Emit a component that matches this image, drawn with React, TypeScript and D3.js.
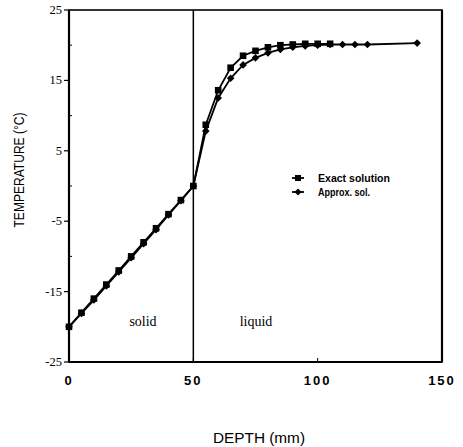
import React from 'react';
import * as d3 from 'd3';

const depthSolid = [0, 5, 10, 15, 20, 25, 30, 35, 40, 45, 50];
const exactSolid = [-20, -18, -16, -14, -12, -10, -8, -6, -4, -2, 0];
const approxSolid = [-20, -18.1, -16.2, -14.2, -12.2, -10.2, -8.2, -6.2, -4.1, -2.1, 0];

const depthExact = [55, 60, 65, 70, 75, 80, 85, 90, 95, 100, 105];
const exactLiquid = [8.7, 13.6, 16.8, 18.5, 19.2, 19.7, 20.0, 20.1, 20.2, 20.2, 20.2];

const depthApprox = [55, 60, 65, 70, 75, 80, 85, 90, 95, 100, 105, 110, 115, 120, 140];
const approxLiquid = [7.8, 12.5, 15.3, 17.2, 18.2, 18.9, 19.4, 19.7, 19.9, 20.0, 20.1, 20.1, 20.1, 20.1, 20.3];

const xMajor = [0, 50, 100, 150];
const yMajor = [-25, -15, -5, 5, 15, 25];
const yMinor = [-20, -10, 0, 10, 20];

export default function App() {
  const left = 69;
  const right = 442;
  const top = 10;
  const bottom = 362;

  const x = d3.scaleLinear().domain([0, 150]).range([left, right]);
  const y = d3.scaleLinear().domain([-25, 25]).range([bottom, top]);

  const exact = depthSolid.map((d, i) => [d, exactSolid[i]]).concat(depthExact.map((d, i) => [d, exactLiquid[i]]));
  const approx = depthSolid.map((d, i) => [d, approxSolid[i]]).concat(depthApprox.map((d, i) => [d, approxLiquid[i]]));

  const line = d3.line<number[]>().x(d => x(d[0])).y(d => y(d[1]));

  const diamond = (cx: number, cy: number, r: number) =>
    `M${cx},${cy - r}L${cx + r},${cy}L${cx},${cy + r}L${cx - r},${cy}Z`;

  const sans = 'Liberation Sans, Arial, sans-serif';
  const serif = 'Liberation Serif, serif';

  return (
    <svg width={463} height={447} style={{ position: 'absolute', left: 0, top: 0, background: '#fff' }}>
      {/* frame */}
      <rect x={left} y={top} width={right - left} height={bottom - top} fill="none" stroke="#000" strokeWidth={1.6} />
      <line x1={left} x2={left} y1={top} y2={bottom} stroke="#000" strokeWidth={2.2} />
      <line x1={left} x2={right} y1={bottom} y2={bottom} stroke="#000" strokeWidth={2} />
      <line x1={right} x2={right} y1={top} y2={bottom} stroke="#000" strokeWidth={2.2} />
      <line x1={x(50)} x2={x(50)} y1={top} y2={bottom} stroke="#000" strokeWidth={1.5} />

      {/* y ticks */}
      {yMajor.map(v => (
        <g key={'ym' + v}>
          <line x1={left - 5} x2={left} y1={y(v)} y2={y(v)} stroke="#000" strokeWidth={1.2} />
          <text x={left - 7} y={y(v) + 4} textAnchor="end" fill="#000" fontFamily={serif} fontSize={12.5}>{v}</text>
        </g>
      ))}
      {yMinor.map(v => (
        <line key={'yn' + v} x1={left} x2={left + 3} y1={y(v)} y2={y(v)} stroke="#000" strokeWidth={1} />
      ))}

      {/* x ticks */}
      {xMajor.map(v => (
        <g key={'xm' + v}>
          <line x1={x(v)} x2={x(v)} y1={bottom} y2={bottom - 4} stroke="#000" strokeWidth={1} />
          <text x={x(v)} y={385} textAnchor="middle" fill="#000" fontFamily={sans} fontWeight="bold" fontSize={13} letterSpacing={2}>{v}</text>
        </g>
      ))}

      {/* series lines */}
      <path d={line(approx) || ''} fill="none" stroke="#000" strokeWidth={1.8} />
      <path d={line(exact) || ''} fill="none" stroke="#000" strokeWidth={1.8} />

      {approx.map((d, i) => (
        <path key={'a' + i} d={diamond(x(d[0]), y(d[1]), 3.8)} fill="#000" />
      ))}
      {exact.map((d, i) => (
        <rect key={'e' + i} x={x(d[0]) - 3.3} y={y(d[1]) - 3.3} width={6.6} height={6.6} fill="#000" />
      ))}

      {/* region labels */}
      <text x={143} y={326} textAnchor="middle" fill="#000" fontFamily={serif} fontSize={14}>solid</text>
      <text x={256} y={326} textAnchor="middle" fill="#000" fontFamily={serif} fontSize={14}>liquid</text>

      {/* legend */}
      <line x1={292} x2={304} y1={178} y2={178} stroke="#000" strokeWidth={1.8} />
      <rect x={295} y={175} width={6} height={6} fill="#000" />
      <text x={318} y={182} fill="#000" fontFamily={sans} fontWeight="bold" fontSize={10} textLength={72} lengthAdjust="spacingAndGlyphs">Exact solution</text>
      <line x1={292} x2={304} y1={192} y2={192} stroke="#000" strokeWidth={1.8} />
      <path d={diamond(298, 192, 3.5)} fill="#000" />
      <text x={318} y={195.5} fill="#000" fontFamily={sans} fontWeight="bold" fontSize={10} textLength={52} lengthAdjust="spacingAndGlyphs">Approx. sol.</text>

      {/* axis titles */}
      <text x={259} y={443} textAnchor="middle" fill="#000" fontFamily={sans} fontSize={14} textLength={92} lengthAdjust="spacingAndGlyphs">DEPTH (mm)</text>
      <text transform="translate(24,170) rotate(-90)" textAnchor="middle" fill="#000" fontFamily={sans} fontSize={14} textLength={115} lengthAdjust="spacingAndGlyphs">TEMPERATURE (°C)</text>
    </svg>
  );
}
